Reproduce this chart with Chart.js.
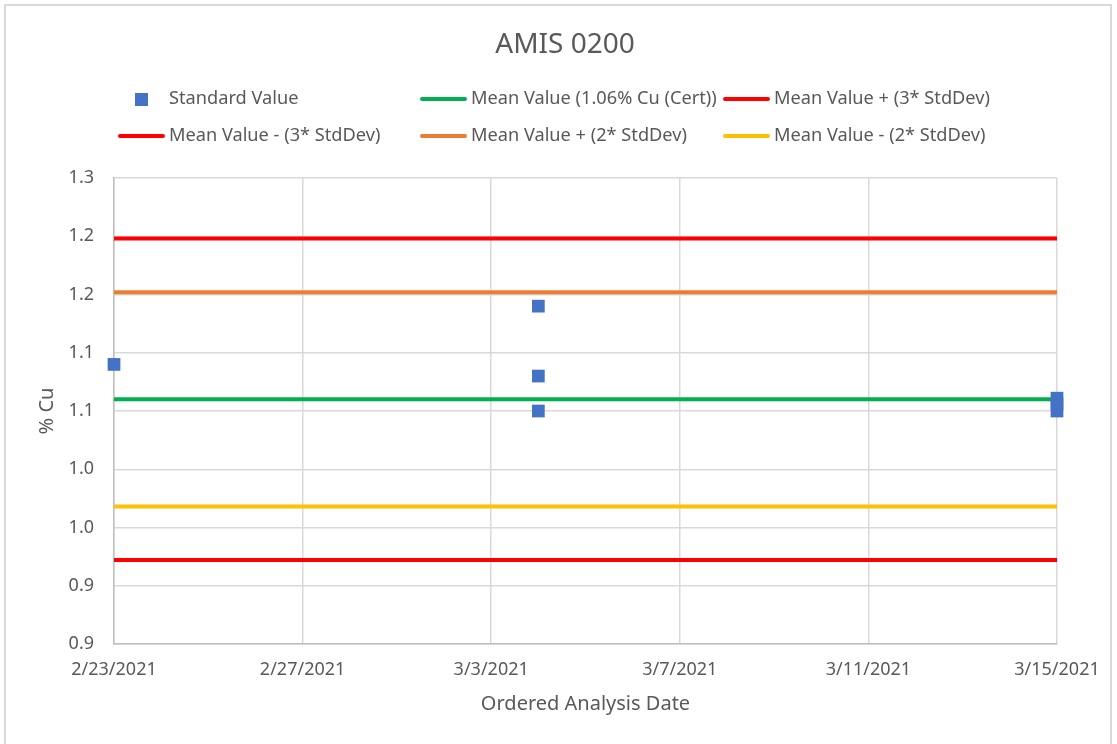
<!DOCTYPE html>
<html>
<head>
<meta charset="utf-8">
<script src="https://cdn.jsdelivr.net/npm/chart.js@4.4.1/dist/chart.umd.min.js"></script>
<style>
  html, body { margin: 0; padding: 0; background: #fff; overflow: hidden; }
  #frame { position: absolute; left: 4px; top: 4px; width: 1104px; height: 780px; border: 2px solid #d9d9d9; }
  #wrap { position: absolute; left: 0; top: 0; width: 1117px; height: 744px; }
</style>
</head>
<body>
<div id="frame"></div>
<div id="wrap"><canvas id="myChart" width="1117" height="744"></canvas></div>
<script>
// standard results
var sampleDates = ['2021-02-23', '2021-03-04', '2021-03-04', '2021-03-04', '2021-03-15', '2021-03-15', '2021-03-15'];
var sampleValues = [1.140, 1.190, 1.130, 1.100, 1.111, 1.106, 1.100];

// control limit lines (start and end of the period)
var lineDates = ['2021-02-23', '2021-03-15'];
var meanLine = [1.110, 1.110];
var plus3Line = [1.248, 1.248];
var minus3Line = [0.972, 0.972];
var plus2Line = [1.202, 1.202];
var minus2Line = [1.018, 1.018];

var seriesNames = ['Standard Value', 'Mean Value (1.06% Cu (Cert))', 'Mean Value + (3* StdDev)',
    'Mean Value - (3* StdDev)', 'Mean Value + (2* StdDev)', 'Mean Value - (2* StdDev)'];

var yTickLabels = ['0.9', '0.9', '1.0', '1.0', '1.1', '1.1', '1.2', '1.2', '1.3'];
var xStart = '2021-02-23';
var xEnd = '2021-03-15';

var DAY = 86400000;
function dayNum(s) {
    var p = s.split('-');
    return Date.UTC(+p[0], +p[1] - 1, +p[2]) / DAY;
}
function toPoints(dates, vals) {
    var pts = [];
    for (var i = 0; i < dates.length; i++) {
        pts.push({ x: dayNum(dates[i]), y: vals[i] });
    }
    return pts;
}
function fmtDate(n) {
    var d = new Date(n * DAY);
    return (d.getUTCMonth() + 1) + '/' + d.getUTCDate() + '/' + d.getUTCFullYear();
}

var txt = '#595959';
var fam = '"Noto Sans", "Open Sans", sans-serif';

function lineSet(label, vals, color) {
    return {
        label: label,
        data: toPoints(lineDates, vals),
        showLine: true,
        borderColor: color,
        backgroundColor: color,
        borderWidth: 4,
        pointRadius: 0,
        clip: false
    };
}

// excel style legend grid + title
var excelLegend = {
    id: 'excelLegend',
    afterDraw: function (chart) {
        var ctx = chart.ctx;
        ctx.save();
        ctx.fillStyle = txt;
        ctx.font = '28px ' + fam;
        ctx.textAlign = 'center';
        ctx.textBaseline = 'middle';
        ctx.fillText('AMIS 0200', 565, 45);

        var cols = [118, 420, 723];
        var rows = [99, 136];
        ctx.font = '18.2px ' + fam;
        ctx.textAlign = 'left';
        chart.data.datasets.forEach(function (ds, i) {
            var x = cols[i % 3], y = rows[Math.floor(i / 3)];
            if (ds.showLine) {
                ctx.strokeStyle = ds.borderColor;
                ctx.lineWidth = 4;
                ctx.lineCap = 'round';
                ctx.beginPath();
                ctx.moveTo(x + 2, y);
                ctx.lineTo(x + 45, y);
                ctx.stroke();
                ctx.fillStyle = txt;
                ctx.fillText(ds.label, x + 51, y);
            } else {
                ctx.fillStyle = ds.backgroundColor;
                ctx.fillRect(x + 17, y - 6, 13, 13);
                ctx.fillStyle = txt;
                ctx.fillText(ds.label, x + 51, y);
            }
        });
        ctx.restore();
    }
};

new Chart('myChart', {
    type: 'scatter',
    data: {
        datasets: [
            {
                label: seriesNames[0],
                data: toPoints(sampleDates, sampleValues),
                backgroundColor: '#4472C4',
                borderColor: '#4472C4',
                pointStyle: 'rect',
                pointRadius: 9,
                pointHoverRadius: 9,
                borderWidth: 0,
                clip: false
            },
            lineSet(seriesNames[1], meanLine, '#00B050'),
            lineSet(seriesNames[2], plus3Line, '#FF0000'),
            lineSet(seriesNames[3], minus3Line, '#FF0000'),
            lineSet(seriesNames[4], plus2Line, '#ED7D31'),
            lineSet(seriesNames[5], minus2Line, '#FFC000')
        ]
    },
    options: {
        responsive: false,
        animation: false,
        layout: { padding: { left: 0, right: 60, top: 178, bottom: 0 } },
        plugins: {
            legend: { display: false },
            title: { display: false },
            tooltip: { enabled: false }
        },
        scales: {
            x: {
                type: 'linear',
                min: dayNum(xStart),
                max: dayNum(xEnd),
                afterFit: function (s) { s.height = 100; },
                ticks: {
                    stepSize: 4,
                    padding: 15,
                    color: txt,
                    font: { family: fam, size: 18 },
                    maxRotation: 0,
                    callback: function (v) { return fmtDate(v); }
                },
                grid: { color: '#d9d9d9', lineWidth: 1.5, drawTicks: false },
                border: { color: '#bfbfbf', width: 1.5 },
                title: {
                    display: true,
                    text: 'Ordered Analysis Date',
                    color: txt,
                    font: { family: fam, size: 20 },
                    padding: { top: 0, bottom: 28 }
                }
            },
            y: {
                min: 0.9,
                max: 1.3,
                afterFit: function (s) { s.width = 114; },
                ticks: {
                    stepSize: 0.05,
                    padding: 20,
                    color: txt,
                    font: { family: fam, size: 18 },
                    callback: function (v, i) { return yTickLabels[i]; }
                },
                grid: { color: '#d9d9d9', lineWidth: 1.5, drawTicks: false },
                border: { color: '#bfbfbf', width: 1.5 },
                title: {
                    display: true,
                    text: '% Cu',
                    color: txt,
                    font: { family: fam, size: 20 },
                    padding: { top: 35, bottom: 0 }
                }
            }
        }
    },
    plugins: [excelLegend]
});
</script>
</body>
</html>
